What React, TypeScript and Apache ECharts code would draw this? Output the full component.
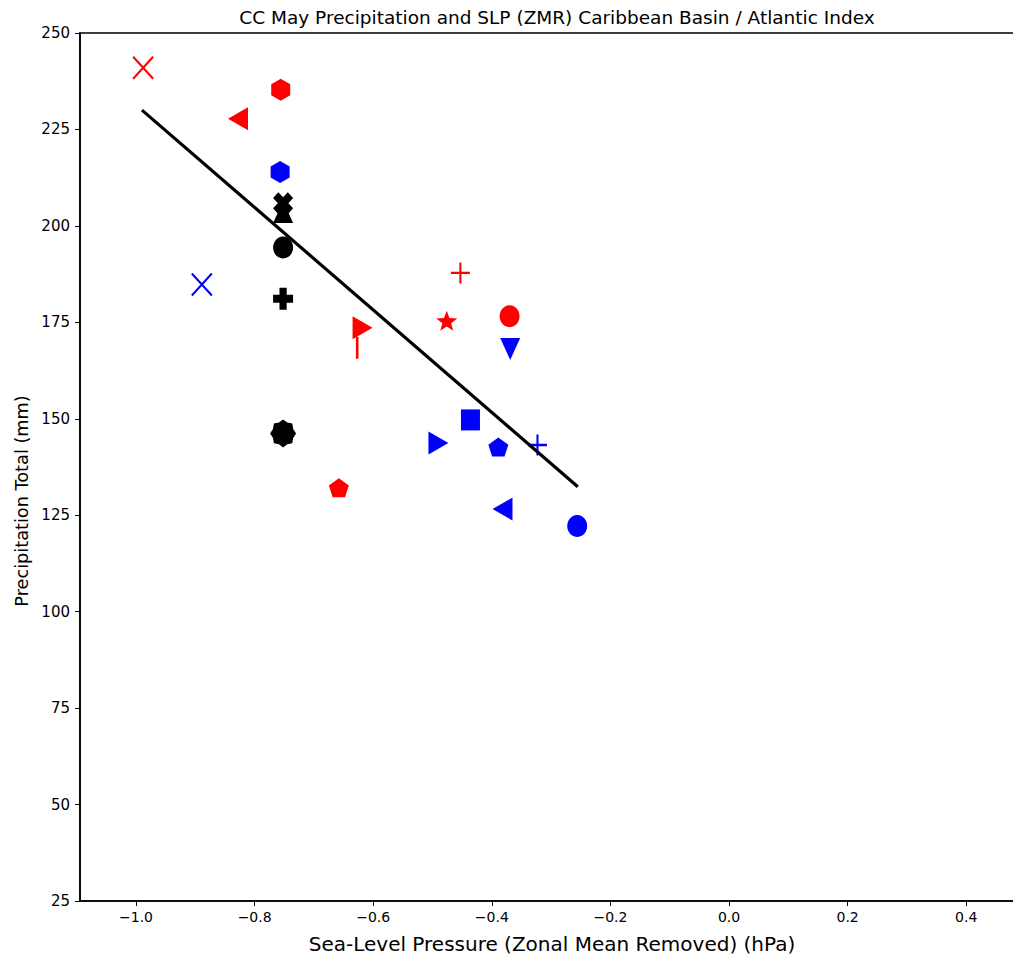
import React, { useEffect, useRef } from "react";
import * as echarts from "echarts";

// Data
const slp = [-0.988, -0.756, -0.828, -0.757, -0.752, -0.752, -0.752, -0.889, -0.752, -0.453, -0.476, -0.370, -0.618, -0.627, -0.369, -0.436, -0.490, -0.389, -0.323, -0.752, -0.658, -0.382, -0.256];
const precip = [241.0, 235.3, 227.8, 214.0, 205.9, 203.6, 194.4, 184.8, 181.1, 187.8, 175.4, 176.6, 173.6, 168.4, 168.1, 149.7, 143.7, 142.7, 143.2, 146.2, 132.1, 126.6, 122.2];
const markerKinds = ["x", "h", "<", "h", "X", "^", "o", "x", "P", "+", "*", "o", ">", "|", "v", "s", ">", "p", "+", "8", "p", "<", "o"];
const markerColors = ["red", "red", "red", "blue", "black", "black", "black", "blue", "black", "red", "red", "red", "red", "red", "blue", "blue", "blue", "blue", "blue", "black", "red", "blue", "blue"];
const fitX = [-0.99, -0.255];
const fitY = [230.0, 132.4];
const xTicks = [-1.0, -0.8, -0.6, -0.4, -0.2, 0.0, 0.2, 0.4];

const colorMap: Record<string, string> = { red: "#ff0000", blue: "#0000ff", black: "#000000" };

function poly(pts: number[][]) {
  return "path://" + pts.map((p, i) => (i === 0 ? "M" : "L") + p[0].toFixed(4) + "," + p[1].toFixed(4)).join(" ") + " Z";
}
function regular(n: number, r: number, rot: number) {
  const pts: number[][] = [];
  for (let i = 0; i < n; i++) {
    const a = rot + (i * 2 * Math.PI) / n;
    pts.push([r * Math.sin(a), -r * Math.cos(a)]);
  }
  return pts;
}
function starPts(n: number, ro: number, ri: number) {
  const pts: number[][] = [];
  for (let i = 0; i < 2 * n; i++) {
    const a = (i * Math.PI) / n;
    const r = i % 2 === 0 ? ro : ri;
    pts.push([r * Math.sin(a), -r * Math.cos(a)]);
  }
  return pts;
}
const t = 0.36;
const plusPts = [[-t, -1], [t, -1], [t, -t], [1, -t], [1, t], [t, t], [t, 1], [-t, 1], [-t, t], [-1, t], [-1, -t], [-t, -t]];
const xPts = plusPts.map(([x, y]) => {
  const c = Math.SQRT1_2;
  return [c * x - c * y, c * x + c * y];
});

const symbolFor: Record<string, { symbol: string; size: number[]; stroke?: boolean }> = {
  o: { symbol: "circle", size: [20, 22] },
  h: { symbol: poly(regular(6, 1, 0)), size: [19, 22] },
  p: { symbol: poly(regular(5, 1, 0)), size: [20, 19] },
  "*": { symbol: poly(starPts(5, 1, 0.42)), size: [21, 20] },
  "8": { symbol: poly(starPts(8, 1, 0.84)), size: [26, 28] },
  "^": { symbol: poly([[0, -1], [1, 1], [-1, 1]]), size: [20, 22] },
  v: { symbol: poly([[-1, -1], [1, -1], [0, 1]]), size: [20, 22] },
  "<": { symbol: poly([[-1, 0], [1, -1], [1, 1]]), size: [20, 23] },
  ">": { symbol: poly([[1, 0], [-1, -1], [-1, 1]]), size: [20, 23] },
  s: { symbol: "rect", size: [19, 21] },
  P: { symbol: poly(plusPts), size: [20, 22] },
  X: { symbol: poly(xPts), size: [20, 22] },
  x: { symbol: "path://M-1,-1 L1,1 M-1,1 L1,-1", size: [20, 22], stroke: true },
  "+": { symbol: "path://M-1,0 L1,0 M0,-1 L0,1", size: [19, 21], stroke: true },
  "|": { symbol: "rect", size: [2.6, 22] },
};

const points = slp.map((x, i) => {
  const m = symbolFor[markerKinds[i]];
  const col = colorMap[markerColors[i]];
  return {
    value: [x, precip[i]],
    symbol: m.symbol,
    symbolSize: m.size,
    itemStyle: m.stroke
      ? { color: "rgba(0,0,0,0)", borderColor: col, borderWidth: 2.2, opacity: 1 }
      : { color: col, borderWidth: 0, opacity: 1 },
  };
});

const FONT = "DejaVu Sans";
const CHART_W = 1030;

export default function App() {
  const ref = useRef<HTMLDivElement>(null);
  useEffect(() => {
    if (!ref.current) return;
    const chart = echarts.init(ref.current, undefined, { renderer: "svg" });
    chart.setOption({
      animation: false,
      backgroundColor: "#ffffff",
      textStyle: { fontFamily: FONT },
      title: {
        text: "CC May Precipitation and SLP (ZMR) Caribbean Basin / Atlantic Index",
        left: 552,
        top: 3,
        textAlign: "center",
        textStyle: { fontFamily: FONT, fontSize: 18.5, fontWeight: "normal", color: "#000" },
      },
      graphic: [
        {
          type: "text",
          x: 22,
          y: 501,
          rotation: Math.PI / 2,
          style: {
            text: "Precipitation Total (mm)",
            fontFamily: FONT,
            fontSize: 17.7,
            fill: "#000",
            textAlign: "center",
            textVerticalAlign: "middle",
          },
        },
      ],
      grid: {
        left: 80,
        right: CHART_W - 1024,
        top: 33,
        bottom: 60,
        show: true,
        borderColor: "#000",
        borderWidth: 1.6,
        backgroundColor: "transparent",
      },
      xAxis: {
        type: "value",
        min: -1.0945,
        max: 0.4975,
        name: "Sea-Level Pressure (Zonal Mean Removed) (hPa)",
        nameLocation: "middle",
        nameGap: 33,
        nameTextStyle: { fontFamily: FONT, fontSize: 20, color: "#000" },
        axisLine: { show: true, onZero: false, lineStyle: { color: "#000", width: 1.6 } },
        axisTick: { show: true, inside: false, length: 5, customValues: xTicks, lineStyle: { color: "#000", width: 1 } },
        axisLabel: {
          customValues: xTicks,
          margin: 9,
          fontFamily: FONT,
          fontSize: 14,
          color: "#000",
          formatter: (v: number) => v.toFixed(1).replace("-", "\u2212"),
        },
        splitLine: { show: false },
      },
      yAxis: {
        type: "value",
        min: 25,
        max: 250,
        interval: 25,
        axisLine: { show: true, onZero: false, lineStyle: { color: "#000", width: 1.6 } },
        axisTick: { show: true, inside: false, length: 5, lineStyle: { color: "#000", width: 1 } },
        axisLabel: { margin: 10, fontFamily: FONT, fontSize: 15, color: "#000" },
        splitLine: { show: false },
      },
      series: [
        {
          type: "scatter",
          data: points,
          z: 2,
        },
        {
          type: "line",
          data: fitX.map((x, i) => [x, fitY[i]]),
          symbol: "none",
          lineStyle: { color: "#000", width: 3.2 },
          z: 3,
        },
      ],
    });
    return () => chart.dispose();
  }, []);
  return (
    <div style={{ position: "absolute", left: 0, top: 0, width: 1013, height: 961, overflow: "hidden", background: "#fff" }}>
      <div ref={ref} style={{ width: CHART_W, height: 961 }} />
    </div>
  );
}
